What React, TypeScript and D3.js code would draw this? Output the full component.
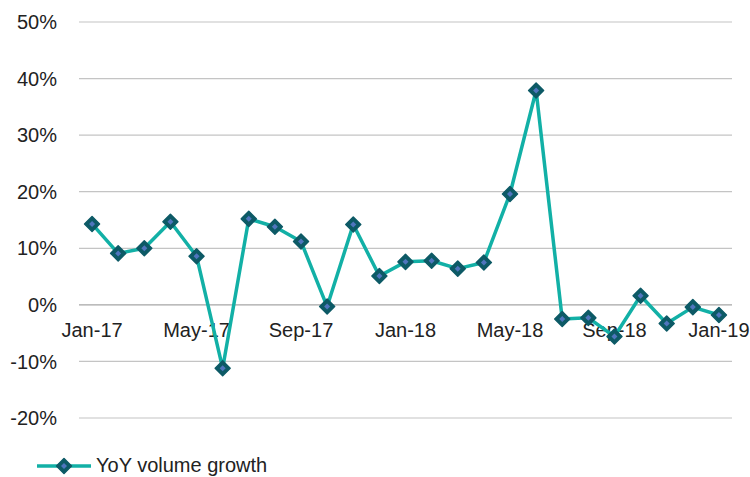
import * as d3 from "d3";

const WIDTH = 750;
const HEIGHT = 477;

const months = [
  "Jan-17", "Feb-17", "Mar-17", "Apr-17", "May-17", "Jun-17", "Jul-17", "Aug-17",
  "Sep-17", "Oct-17", "Nov-17", "Dec-17", "Jan-18", "Feb-18", "Mar-18", "Apr-18",
  "May-18", "Jun-18", "Jul-18", "Aug-18", "Sep-18", "Oct-18", "Nov-18", "Dec-18",
  "Jan-19",
];

const growth = [
  14.3, 9.1, 10.0, 14.7, 8.6, -11.2, 15.2, 13.8, 11.2, -0.3, 14.2, 5.1, 7.6, 7.8,
  6.4, 7.5, 19.6, 37.9, -2.5, -2.3, -5.6, 1.6, -3.3, -0.4, -1.8,
];

const yTicks = [-20, -10, 0, 10, 20, 30, 40, 50];
const xLabels = ["Jan-17", "May-17", "Sep-17", "Jan-18", "May-18", "Sep-18", "Jan-19"];

const LINE = "#12b0a6";
const MARK_EDGE = "#0d5a66";
const MARK_FILL = "#4f75bd";
const FONT = "'Liberation Sans', Arial, sans-serif";

function Diamond({ x, y }: { x: number; y: number }) {
  const r = 7.5;
  return (
    <g transform={`translate(${x},${y})`}>
      <path d={`M0,${-r}L${r},0L0,${r}L${-r},0Z`} fill={MARK_EDGE} stroke={MARK_EDGE} strokeWidth={1.5} strokeLinejoin="round" />
      <path d="M0,-3L3,0L0,3L-3,0Z" fill={MARK_FILL} />
    </g>
  );
}

export default function App() {
  const x = d3.scaleBand<string>().domain(months).range([79, 732]);
  const y = d3.scaleLinear().domain([-20, 50]).range([418, 22]);
  const cx = (m: string) => (x(m) ?? 0) + x.bandwidth() / 2;

  const line = d3
    .line<number>()
    .x((_, i) => cx(months[i]))
    .y((d) => y(d));

  return (
    <svg width={WIDTH} height={HEIGHT} style={{ position: "absolute", left: 0, top: 0 }} fontFamily={FONT}>
      <rect width={WIDTH} height={HEIGHT} fill="#fff" />
      {yTicks.map((t) => (
        <g key={t}>
          <line x1={79} x2={732} y1={y(t)} y2={y(t)} stroke={t === 0 ? "#a6a6a6" : "#c4c4c4"} strokeWidth={1.2} />
          <text x={57} y={y(t)} dy="0.36em" textAnchor="end" fontSize={20} fill="#222">
            {`${t}%`}
          </text>
        </g>
      ))}
      {xLabels.map((m) => (
        <text key={m} x={cx(m)} y={y(0) + 32} textAnchor="middle" fontSize={20} fill="#222">
          {m}
        </text>
      ))}
      <path d={line(growth) ?? ""} fill="none" stroke={LINE} strokeWidth={3.5} strokeLinejoin="round" />
      {growth.map((v, i) => (
        <Diamond key={months[i]} x={cx(months[i])} y={y(v)} />
      ))}
      <g>
        <line x1={37} x2={91} y1={466} y2={466} stroke={LINE} strokeWidth={3.5} />
        <Diamond x={64} y={466} />
        <text x={96} y={472} fontSize={20} fill="#222">
          YoY volume growth
        </text>
      </g>
    </svg>
  );
}
